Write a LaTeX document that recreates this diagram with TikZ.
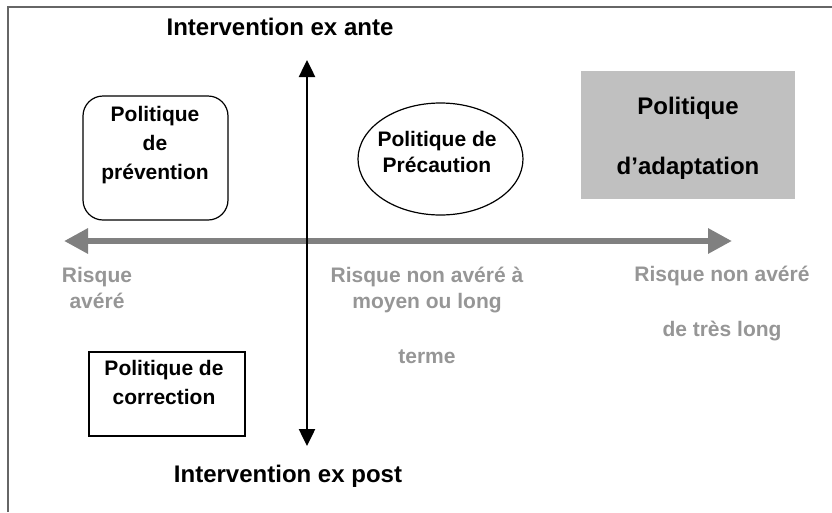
\documentclass[tikz,border=0pt]{standalone}
\usepackage{fontspec}
\setmainfont{Liberation Sans}
\usepackage{tikz}
\usetikzlibrary{shapes}
\usetikzlibrary{arrows.meta}
\definecolor{axisgray}{RGB}{128,128,128}
\definecolor{labelgray}{RGB}{150,150,150}
\definecolor{boxgray}{RGB}{192,192,192}
\tikzset{
	policy node/.style={font=\fontsize{21}{#1}\selectfont\bfseries,align=center,inner sep=0pt},
	big policy/.style={font=\fontsize{24}{#1}\selectfont\bfseries,align=center,inner sep=0pt},
	risk label/.style={font=\fontsize{21}{26}\selectfont\bfseries,align=center,inner sep=0pt,text=labelgray},
	axis title/.style={font=\fontsize{24}{28}\selectfont\bfseries,inner sep=0pt,anchor=base},
	outline/.style={draw,line width=1.2pt}
}

\begin{document}
\begin{tikzpicture}[x=1pt,y=-1pt]
	\useasboundingbox (0,0) rectangle (832,512);
	% cadre
	\draw[line width=1.5pt,black!60] (8,512) -- (8,7) -- (832,7);
	% axes
	\coordinate (haut) at (307,60);
	\coordinate (bas) at (307,446);
	\coordinate (gauche) at (64,241);
	\coordinate (droite) at (732,241);
	\draw[line width=6.5pt,axisgray,{Triangle[length=24pt,width=24pt]}-{Triangle[length=24pt,width=24pt]}] (gauche) -- (droite);
	\draw[line width=2.5pt,{Triangle[length=17pt,width=16pt]}-{Triangle[length=17pt,width=16pt]}] (bas) -- (haut);
	\node[axis title] (exante) at (280,35) {Intervention ex ante};
	\node[axis title] (expost) at (288,482) {Intervention ex post};
	% politiques
	\draw[outline,rounded corners=20pt] (83,96) rectangle (228,220);
	\node[policy node=29] (prevention) at (155,144.7) {Politique\\de\\prévention};
	\draw[outline] (440.5,159) ellipse [x radius=82.5pt,y radius=56pt];
	\node[policy node=26] (precaution) at (437,151.5) {Politique de\\Précaution};
	\fill[boxgray] (581,71) rectangle (795,199);
	\node[big policy=60] (adaptation) at (688,138.75) {Politique\\d’adaptation};
	\draw[outline] (89,352) rectangle (245,436);
	\node[policy node=29] (correction) at (164,382) {Politique de\\correction};
	% risques
	\node[risk label] (avere) at (97,287.5) {Risque\\avéré};
	\node[risk label] (moyen) at (427,315) {Risque non avéré à\\moyen ou long\\[29pt]terme};
	\node[risk label] (treslong) at (722,304) {Risque non avéré\\[29pt]de très long};
\end{tikzpicture}
\end{document}
